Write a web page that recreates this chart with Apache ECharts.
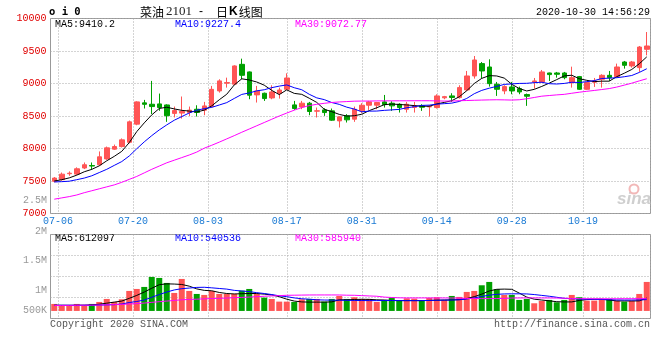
<!DOCTYPE html>
<html><head><meta charset="utf-8">
<script src="https://cdn.jsdelivr.net/npm/echarts@6/dist/echarts.min.js"></script>
<style>html,body{margin:0;padding:0;background:#fff}#c{width:660px;height:360px}</style>
</head><body><div id="c"></div>
<script>
const dates = ['07-03','07-06','07-07','07-08','07-09','07-10','07-13','07-14','07-15','07-16','07-17','07-20','07-21','07-22','07-23','07-24','07-27','07-28','07-29','07-30','07-31',
'08-03','08-04','08-05','08-06','08-07','08-10','08-11','08-12','08-13','08-14','08-17','08-18','08-19','08-20','08-21','08-24','08-25','08-26','08-27','08-28','08-31',
'09-01','09-02','09-03','09-04','09-07','09-08','09-09','09-10','09-11','09-14','09-15','09-16','09-17','09-18','09-21','09-22','09-23','09-24','09-25','09-28','09-29','09-30',
'10-09','10-12','10-13','10-14','10-15','10-16','10-19','10-20','10-21','10-22','10-23','10-26','10-27','10-28','10-29','10-30'];
const opens = [7495,7520,7612,7606,7700,7738,7750,7840,7990,8030,8095,8375,8702,8681,8686,8670,8540,8545,8555,8604,8590,8645,8886,9005,8990,9295,9178,8825,8850,8778,8850,8911,8671,8640,8697,8575,8594,8579,8425,8502,8451,8579,8666,8666,8717,8697,8681,8604,8632,8656,8640,8630,8780,8809,8783,8901,9116,9306,9254,8988,8886,8947,8921,8830,9024,9024,9162,9162,9162,9014,9106,8911,9019,9065,9126,9106,9331,9270,9244,9526];
const closes = [7545,7605,7620,7688,7750,7730,7872,8010,8030,8133,8410,8717,8680,8645,8630,8505,8585,8570,8590,8555,8655,8910,9040,9015,9270,9126,8820,8885,8768,8870,8900,9085,8615,8697,8569,8580,8553,8436,8487,8441,8604,8666,8717,8707,8676,8656,8630,8681,8655,8635,8650,8809,8798,8785,8937,9116,9362,9193,8998,8911,8952,8886,8870,8804,9039,9178,9137,9142,9090,9090,8911,9014,9039,9126,9090,9254,9280,9331,9561,9577];
const lows = [7480,7505,7580,7590,7683,7673,7735,7825,7980,8015,8078,8358,8615,8528,8580,8410,8478,8460,8500,8492,8512,8630,8860,8937,8978,9065,8758,8707,8732,8758,8768,8900,8594,8605,8512,8477,8502,8425,8323,8400,8410,8543,8594,8605,8630,8579,8553,8553,8553,8579,8492,8615,8758,8717,8768,8886,9075,9080,8952,8809,8835,8835,8835,8656,8922,9014,9039,9090,9065,8937,8901,8901,8947,8937,9039,9090,9229,9244,9178,9433];
const highs = [7560,7630,7648,7710,7785,7785,7955,8030,8060,8155,8430,8727,8748,9040,8845,8680,8645,8800,8645,8665,8717,8963,9065,9090,9280,9382,9185,8963,8860,8973,8937,9157,8732,8732,8717,8630,8620,8615,8495,8528,8645,8697,8732,8717,8824,8727,8697,8717,8717,8681,8666,8834,8809,8850,8973,9193,9423,9331,9372,9024,8973,9024,8952,8845,9085,9208,9167,9178,9178,9259,9116,9024,9085,9142,9193,9306,9347,9347,9577,9792];
const ma5 = [7500,7520,7548,7590,7642,7679,7733,7811,7879,7956,8091,8260,8394,8517,8616,8635,8609,8587,8576,8561,8591,8656,8750,8835,8978,9072,9054,9023,8974,8894,8829,8902,8848,8833,8773,8709,8603,8567,8525,8499,8504,8527,8583,8627,8674,8684,8677,8670,8660,8651,8650,8686,8709,8735,8796,8889,9000,9079,9121,9116,9083,8988,8923,8885,8910,8955,9006,9060,9117,9127,9074,9049,9029,9036,9036,9105,9158,9216,9303,9410];
const ma10 = [7485,7490,7497,7520,7545,7580,7630,7680,7740,7799,7885,7996,8102,8198,8286,8363,8435,8491,8547,8589,8613,8633,8669,8706,8770,8832,8855,8887,8904,8936,8960,8978,8935,8904,8834,8779,8752,8707,8679,8636,8607,8565,8575,8576,8587,8594,8602,8627,8643,8663,8667,8682,8690,8698,8724,8770,8843,8894,8928,8956,8986,8994,9001,9003,9013,9019,8997,8992,9001,9019,9015,9028,9044,9077,9082,9089,9104,9123,9170,9227];
const ma30 = [7220,7240,7260,7285,7320,7350,7380,7410,7440,7480,7525,7570,7625,7680,7730,7780,7820,7860,7900,7945,8005,8050,8098,8148,8198,8250,8300,8350,8400,8450,8500,8545,8590,8630,8660,8680,8695,8708,8716,8722,8728,8730,8730,8732,8733,8733,8734,8734,8735,8735,8735,8732,8730,8730,8735,8738,8742,8745,8748,8750,8748,8745,8750,8765,8785,8805,8815,8825,8833,8850,8866,8880,8893,8907,8922,8945,8975,9005,9040,9073];
const volumes = [333000,238000,238000,333000,238000,333000,428000,571000,428000,555000,952000,1047000,1143000,1619000,1571000,1333000,857000,1523000,952000,809000,762000,952000,809000,809000,809000,968000,1047000,809000,635000,571000,444000,444000,428000,555000,571000,571000,444000,571000,714000,571000,651000,571000,571000,428000,524000,635000,492000,603000,587000,492000,619000,651000,524000,714000,667000,905000,952000,1222000,1381000,1032000,762000,762000,524000,571000,365000,476000,524000,413000,524000,762000,651000,492000,492000,571000,571000,492000,444000,476000,809000,1381000];
const volMa5 = [270,270,268,270,275,290,320,370,420,470,600,740,900,1080,1250,1290,1280,1260,1180,1050,980,960,880,830,810,820,830,830,800,760,680,560,470,430,420,420,420,430,530,530,545,555,550,530,520,500,492,492,492,492,500,510,520,524,540,590,680,800,950,1030,1040,1030,850,660,560,520,480,440,428,430,500,540,555,555,520,476,476,476,480,612].map(v => v * 1000);
const volMa10 = [270,270,270,270,270,272,280,290,300,330,400,450,520,650,780,900,1000,1060,1090,1120,1127,1100,1070,1040,980,950,920,870,830,780,720,680,620,580,560,530,520,515,510,505,500,495,492,492,495,495,492,490,490,492,500,510,515,520,530,570,620,690,750,790,810,815,815,810,780,740,700,650,600,580,565,555,550,545,535,525,520,520,525,540].map(v => v * 1000);
const volMa30 = [260,262,265,268,272,276,282,290,300,312,330,350,375,410,440,470,500,530,548,560,575,590,600,615,630,645,660,680,700,715,730,745,750,755,760,762,762,762,760,750,745,730,714,700,660,640,625,620,620,620,620,618,618,615,612,595,590,588,588,590,595,615,618,620,620,620,618,615,605,590,585,582,580,580,580,582,583,584,585,586].map(v => v * 1000);

const gridDates = ['07-06','07-20','08-03','08-17','08-31','09-14','09-28','10-19'];
const volTickLabels = ['2.5M','2M','1.5M','1M','500K'];
const priceLegend = ['MA5:9410.2','MA10:9227.4','MA30:9072.77'];
const volLegend = ['MA5:612097','MA10:540536','MA30:585940'];
const codeText = 'o i 0';
const titleParts = ['菜油', '2101', '-', '日', 'K', '线图'];
const stampText = '2020-10-30 14:56:29';
const copyText = 'Copyright 2020 SINA.COM';
const urlText = 'http://finance.sina.com.cn';

const RED = '#ff5555', GREEN = '#00a000';
const MONO = 'Liberation Mono, DejaVu Sans Mono, monospace';
const edgeTicks = [1, 11, 21, 71];
const centerTicks = [31, 41, 51, 61];
const labelIdx = gridDates.map(d => dates.indexOf(d));
const dotted = { show: true, lineStyle: { color: '#a8a8a8', type: [1, 2], width: 1 } };

const kData = opens.map((o, i) => [o, closes[i], lows[i], highs[i]]);

function xAx(grid, mode, showLabel) {
  return {
    type: 'category', gridIndex: grid, data: dates, boundaryGap: true,
    axisLine: { show: false }, axisTick: { show: false },
    axisLabel: showLabel ? {
      show: true, interval: (i) => labelIdx.includes(i), margin: 3,
      fontFamily: MONO, fontSize: 10, color: '#1a7ad4',
      formatter: (v, i) => {
        const s = edgeTicks.includes(i) ? 'l' : (edgeTicks.includes(i + 1) ? 'r' : 'c');
        return '{' + s + '|' + v + '}';
      },
      rich: {
        l: { padding: [0, 7.5, 0, 0], fontFamily: MONO, fontSize: 10, color: '#1a7ad4' },
        r: { padding: [0, 0, 0, 7.5], fontFamily: MONO, fontSize: 10, color: '#1a7ad4' },
        c: { fontFamily: MONO, fontSize: 10, color: '#1a7ad4' }
      }
    } : { show: false },
    splitLine: Object.assign({}, dotted, mode === 'edge'
      ? { interval: (i) => edgeTicks.includes(i) }
      : { interval: (i) => centerTicks.includes(i), alignWithLabel: true })
  };
}

function txt(text, x, y, fill, font, align, extra) {
  return Object.assign({
    type: 'text', x: x, y: y, silent: true,
    style: { text: text, fill: fill, font: font, align: align || 'left', textAlign: align || 'left', verticalAlign: 'middle', textVerticalAlign: 'middle' }
  }, extra || {});
}

const chart = echarts.init(document.getElementById('c'), null, { renderer: 'canvas' });
const lx = [55, 175, 295];
const lc = ['#000000', '#0000ff', '#ff00ff'];
const volLabelY = [200.7, 231, 260.7, 290.7, 310];
const graphics = [
  txt(codeText, 49, 12, '#000', 'bold 10.5px DejaVu Sans Mono', 'left'),
  {
    type: 'text', x: 140, y: 12, silent: true,
    style: {
      text: '{a|' + titleParts[0] + '}{b|' + titleParts[1] + '}{s|' + titleParts[2] + '}{a|' + titleParts[3] + '}{k|' + titleParts[4] + '}{a|' + titleParts[5] + '}',
      verticalAlign: 'middle', textVerticalAlign: 'middle',
      rich: {
        a: { fontFamily: 'Noto Sans CJK SC', fontSize: 12, fill: '#000', color: '#000' },
        b: { fontFamily: 'Liberation Serif', fontSize: 13, fill: '#222', color: '#222', padding: [0, 0, 0, 2] },
        s: { fontFamily: 'Liberation Sans', fontSize: 12, fill: '#000', color: '#000', padding: [0, 13, 0, 7] },
        k: { fontFamily: 'Liberation Sans', fontWeight: 'bold', fontSize: 12, fill: '#000', color: '#000', padding: [0, 1, 0, 1] }
      }
    }
  },
  txt(stampText, 650, 12, '#000', '10px ' + MONO, 'right'),
  txt(copyText, 50, 324, '#555', '10px ' + MONO, 'left'),
  txt(urlText, 650, 324, '#555', '10px ' + MONO, 'right'),
  txt('sina', 617, 199, '#cfcfcf', 'italic bold 17px Liberation Sans', 'left'),
  { type: 'circle', shape: { cx: 634, cy: 189, r: 4.5 }, silent: true, style: { fill: 'none', stroke: '#f2b8b8', lineWidth: 2 } }
];
priceLegend.forEach((t, i) => graphics.push(txt(t, lx[i], 24, lc[i], '10px ' + MONO, 'left')));
volLegend.forEach((t, i) => graphics.push(txt(t, lx[i], 238.5, lc[i], '10px ' + MONO, 'left')));
volTickLabels.forEach((t, i) => graphics.push(txt(t, 47, volLabelY[i], '#999', '10px ' + MONO, 'right')));

const lineSeries = (name, data, color, xi, yi) => ({
  name: name, type: 'line', data: data, xAxisIndex: xi, yAxisIndex: yi,
  showSymbol: false, symbol: 'none', smooth: false, silent: true,
  lineStyle: { color: color, width: 1 }, z: 5
});

chart.setOption({
  animation: false,
  backgroundColor: '#ffffff',
  grid: [
    { left: 50.5, top: 18.5, width: 600, height: 195, show: true, borderColor: '#999', borderWidth: 1, backgroundColor: 'transparent' },
    { left: 50.5, top: 234.5, width: 600, height: 84, show: true, borderColor: '#999', borderWidth: 1, backgroundColor: 'transparent' }
  ],
  xAxis: [xAx(0, 'edge', true), xAx(0, 'center', false), xAx(1, 'edge', false), xAx(1, 'center', false)],
  yAxis: [
    {
      type: 'value', gridIndex: 0, min: 7000, max: 10000, interval: 500, scale: true,
      axisLine: { show: false }, axisTick: { show: false },
      axisLabel: { show: true, margin: 4, fontFamily: MONO, fontSize: 10, color: '#e00000', padding: [0, 0, 5, 0], showMaxLabel: true, showMinLabel: true, formatter: (v) => String(v) },
      splitLine: dotted
    },
    {
      type: 'value', gridIndex: 1, min: -360000, max: 3640000, interval: 1000000,
      axisLine: { show: false }, axisTick: { show: false }, axisLabel: { show: false },
      splitLine: dotted
    }
  ],
  series: [
    {
      type: 'candlestick', data: kData, xAxisIndex: 0, yAxisIndex: 0, barWidth: 5, silent: true, z: 3,
      itemStyle: { color: RED, color0: GREEN, borderColor: RED, borderColor0: GREEN, borderWidth: 1 }
    },
    lineSeries('MA5', ma5, '#000000', 0, 0),
    lineSeries('MA10', ma10, '#0000ff', 0, 0),
    lineSeries('MA30', ma30, '#ff00ff', 0, 0),
    {
      type: 'bar', data: volumes, xAxisIndex: 2, yAxisIndex: 1, barWidth: 6, silent: true, z: 3,
      itemStyle: { color: (p) => closes[p.dataIndex] >= opens[p.dataIndex] ? RED : GREEN }
    },
    lineSeries('VMA5', volMa5, '#000000', 2, 1),
    lineSeries('VMA10', volMa10, '#0000ff', 2, 1),
    lineSeries('VMA30', volMa30, '#ff00ff', 2, 1)
  ],
  graphic: graphics
});
</script>
</body></html>
